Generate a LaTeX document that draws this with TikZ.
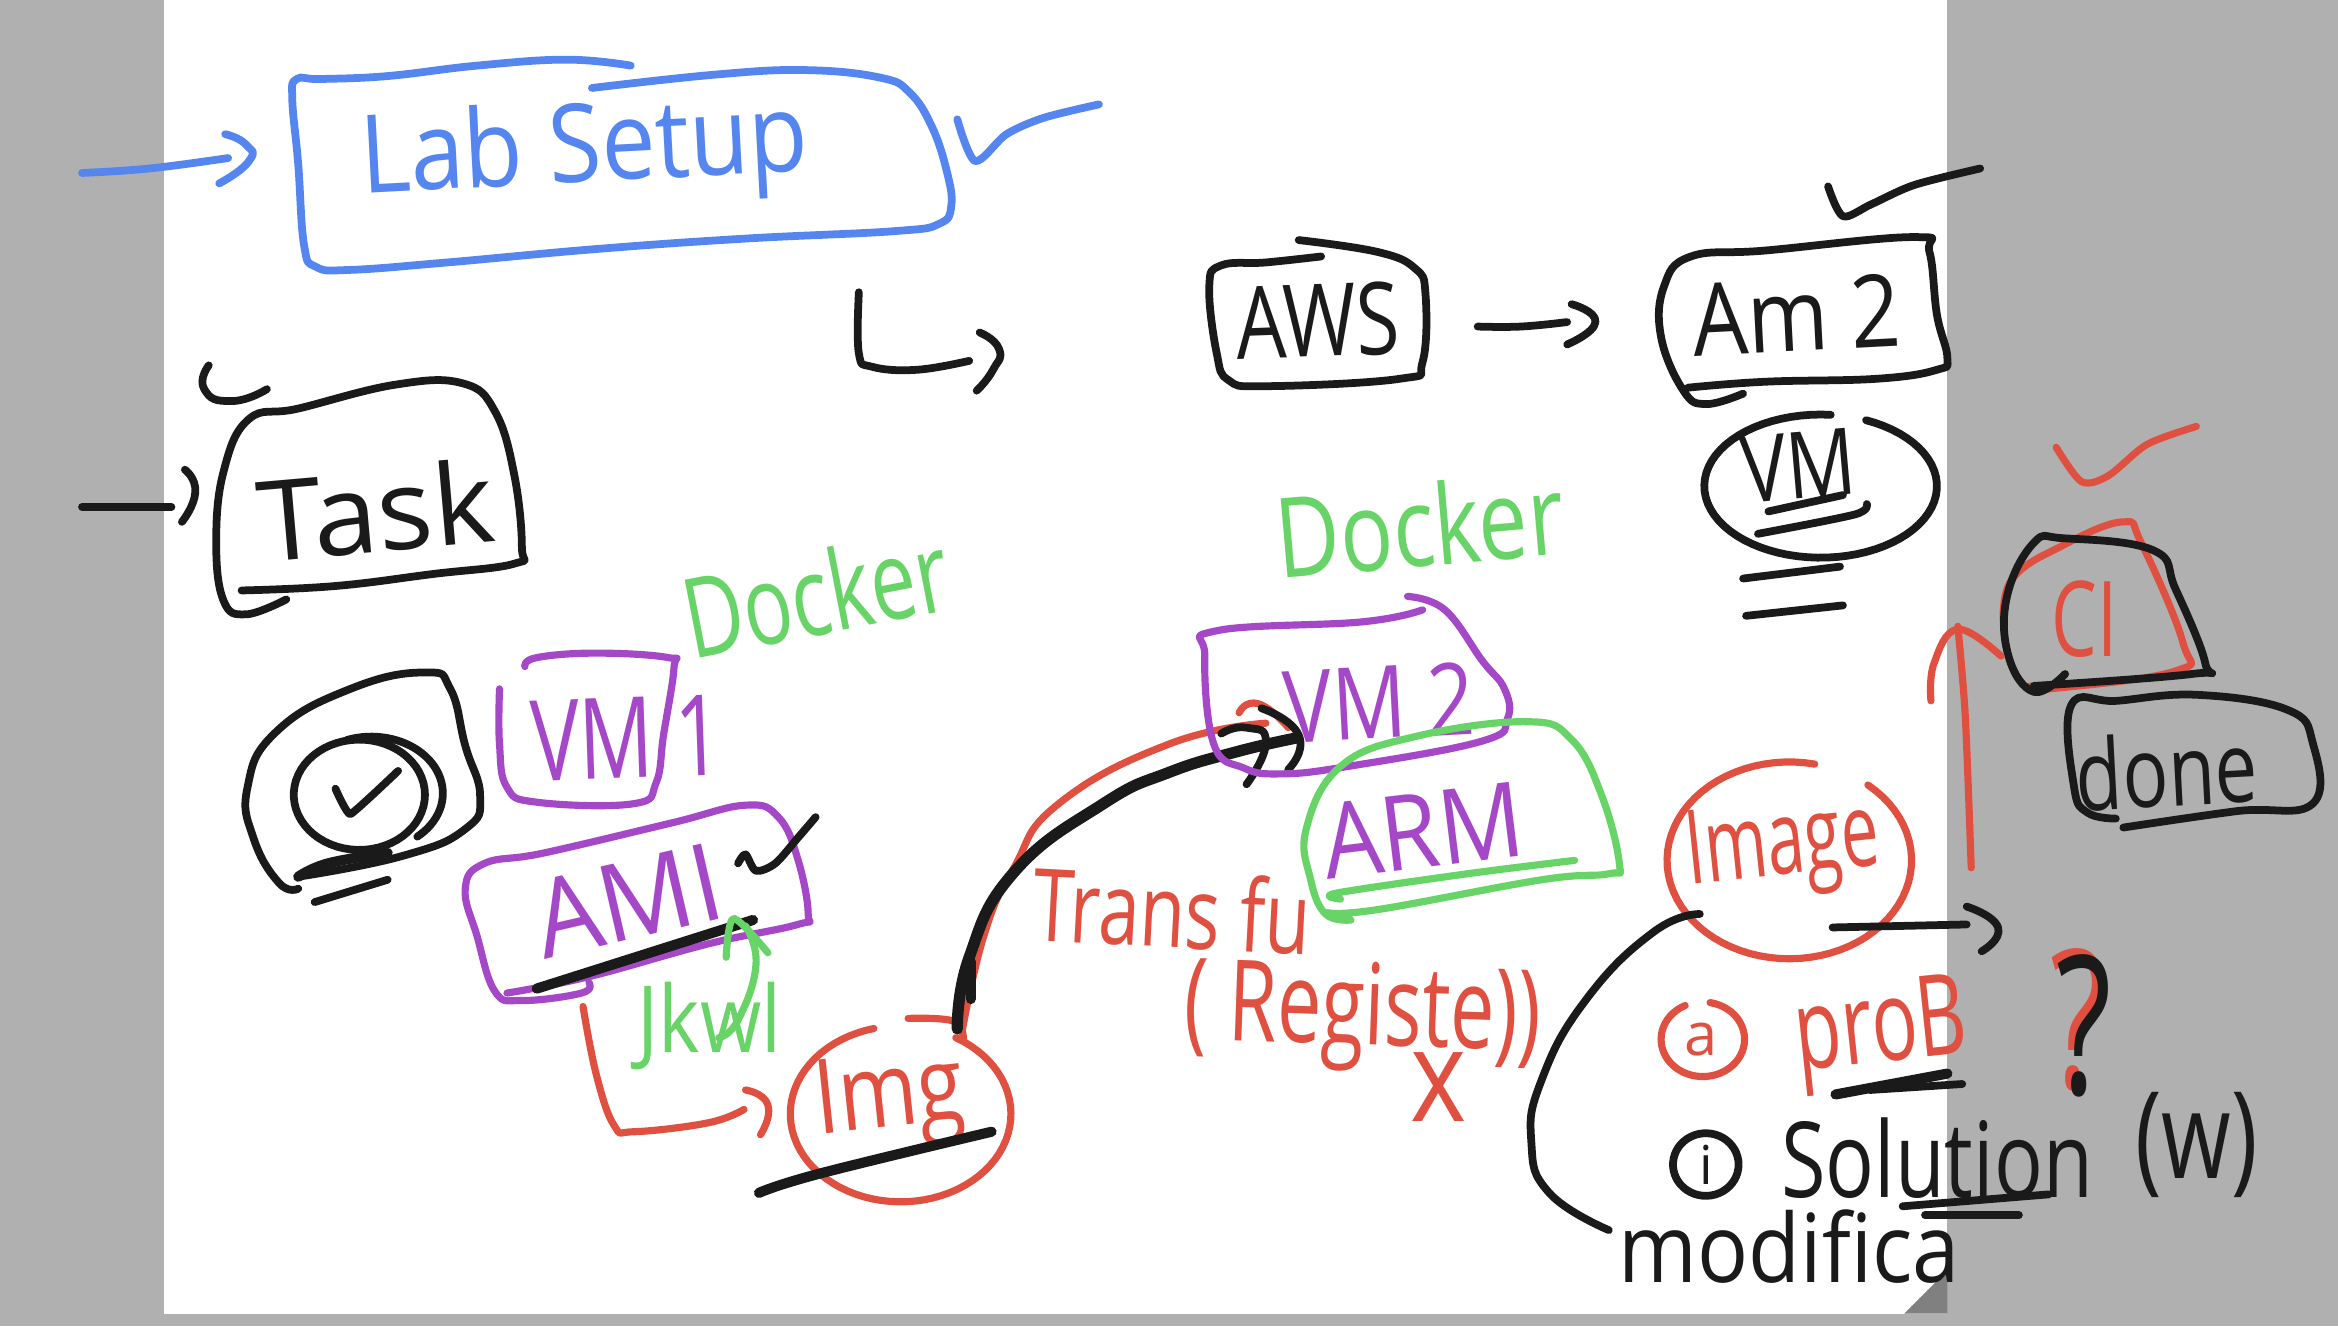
\documentclass[tikz,border=0pt]{standalone}
\usepackage{fontspec}
\newfontfamily\handfont{Open Sans}
\definecolor{boardgray}{HTML}{B0B0B0}
\definecolor{foldgray}{HTML}{808080}
\definecolor{inkblue}{HTML}{5585EE}
\definecolor{inkblack}{HTML}{1A1A1A}
\definecolor{inkred}{HTML}{E05040}
\definecolor{inkgreen}{HTML}{68D468}
\definecolor{inkpurple}{HTML}{A548C8}
\tikzset{
  pen/.style={line width=2.6pt,line cap=round,line join=round},
  bluepen/.style={pen,draw=inkblue},
  blackpen/.style={pen,draw=inkblack},
  redpen/.style={pen,line width=2.4pt,draw=inkred},
  greenpen/.style={pen,line width=2.4pt,draw=inkgreen},
  purplepen/.style={pen,line width=2.4pt,draw=inkpurple},
  strike/.style={blackpen,line width=3.4pt},
  hand/.style={font=\handfont\fontsize{#1}{#1}\selectfont,transform shape,inner sep=0pt},
}
\begin{document}
\begin{tikzpicture}[x=0.5pt,y=-0.5pt]

\useasboundingbox (0,0) rectangle (1568,889.3);
\fill[boardgray] (0,0) rectangle (1568,889.3);
\fill[white] (110,0) rectangle (1306,881);
\fill[foldgray] (1306,852) -- (1277,881) -- (1306,881) -- cycle;

% lab setup
\draw[bluepen] plot[smooth,tension=.7] coordinates {(423,44) (380,40) (320,44) (260,51) (215,53) (199,53) (196,66) (200,110) (204,165) (212,179) (235,181) (300,176) (400,167) (500,160) (600,155) (630,150) (638,138) (635,115) (625,85) (610,62) (590,52) (540,47) (480,50) (397,59)};
\draw[bluepen] plot[smooth,tension=.7] coordinates {(55,116) (100,113) (153,106)};
\draw[bluepen] plot[smooth,tension=1] coordinates {(151,90) (165,97) (167,108) (147,123)};
\draw[bluepen] plot[smooth,tension=.5] coordinates {(642,80) (654,108) (675,90) (700,79) (737,70)};
\node (labsetup) [hand=27,text=inkblue,rotate=3,xscale=1.2,yscale=1.35] at (392,103) {Lab Setup};

% hook to aws
\draw[blackpen] plot[smooth,tension=.7] coordinates {(576,196) (576,237) (585,246) (615,248) (650,242)};
\draw[blackpen] plot[smooth,tension=1] coordinates {(657,223) (670,234) (666,248) (655,262)};

% task
\draw[blackpen] plot[smooth,tension=.7] coordinates {(162,396) (225,393) (290,385) (345,378) (350,367) (345,319) (332,276) (310,257) (265,258) (200,274) (167,281) (150,316) (145,364) (150,403) (165,412) (192,402)};
\draw[blackpen] plot[smooth,tension=1] coordinates {(140,245) (137,261) (155,269) (179,261)};
\draw[blackpen] (55,340) -- (115,340);
\draw[blackpen] plot[smooth,tension=1] coordinates {(124,315) (131,330) (122,350)};
\node (task) [hand=30,text=inkblack,rotate=5,xscale=1.3,yscale=1.25] at (252,342) {Task};

% checked circle
\draw[blackpen] plot[smooth,tension=.8] coordinates {(200,596) (187,592) (170,562) (166,528) (185,491) (235,462) (285,451) (302,462) (312,500) (322,534) (312,556) (270,574) (200,588)};
\draw[blackpen] plot[domain=0:360,samples=60,variable=\t] ({241+44*cos(\t)},{533+37*sin(\t)});
\draw[blackpen] plot[domain=-110:50,samples=40,variable=\t] ({249+48*cos(\t)},{532+38*sin(\t)});
\draw[blackpen] plot[smooth,tension=.2] coordinates {(225,529) (235,546) (267,517)};
\draw[strike] plot[smooth,tension=.7] coordinates {(200,588) (220,579) (260,572)};
\draw[blackpen] (211,605) -- (260,590);

% left docker stack
\node (dockerleft) [hand=31,text=inkgreen,rotate=11,xscale=.88,yscale=1.2] at (547,398) {Docker};
\draw[purplepen] plot[smooth,tension=.7] coordinates {(335,462) (335,499) (340,528) (360,538) (425,539) (440,525) (445,493) (452,448) (448,441) (400,438) (360,441) (352,447)};
\node (vmone) [hand=29,text=inkpurple,rotate=2,xscale=.95,yscale=1.3] at (420,495) {VM 1};
\draw[purplepen] plot[smooth,tension=.7] coordinates {(395,659) (390,666) (350,671) (332,665) (320,628) (312,596) (325,579) (365,572) (450,552) (500,540) (522,548) (535,576) (542,613) (535,620) (475,633) (395,655) (340,666)};
\node (ami) [hand=29,text=inkpurple,rotate=13,xscale=1.2,yscale=1.25] at (421,604) {AMI};
\draw[strike] (360,663) -- (505,617);
\draw[blackpen] plot[smooth,tension=.5] coordinates {(495,579) (500,573) (507,584) (520,579) (535,562) (547,548)};

% green arc and jenkins note
\draw[greenpen] plot[smooth,tension=.8] coordinates {(500,621) (507,647) (495,684) (482,696)};
\draw[greenpen] plot[smooth,tension=.5] coordinates {(487,642) (492,616) (515,639)};
\node (jkwl) [hand=23,text=inkgreen,rotate=0,xscale=1.15,yscale=1.35] at (476,688) {Jkwl};

% img
\draw[redpen] plot[smooth,tension=.7] coordinates {(391,675) (400,721) (412,755) (425,759) (475,753) (499,744)};
\draw[redpen] plot[smooth,tension=1] coordinates {(500,731) (515,741) (510,761)};
\draw[redpen] plot[domain=-420:-104,samples=70,variable=\t] ({604+74*cos(\t)},{747+59*sin(\t)});
\draw[redpen] plot[smooth,tension=.7] coordinates {(609,683) (640,685) (646,698)};
\node (img) [hand=29,text=inkred,rotate=6,xscale=.98,yscale=1.2] at (597,739) {Img};
\draw[strike] plot[smooth,tension=.7] coordinates {(509,800) (550,787) (665,759)};

% transfer curve
\draw[redpen] plot[smooth,tension=.8] coordinates {(645,693) (660,627) (680,582) (710,539) (784,499) (849,485)};
\draw[redpen] plot[smooth,tension=1] coordinates {(831,478) (844,472) (864,488)};
\draw[strike,line width=3.8pt] plot[smooth,tension=.8] coordinates {(642,690) (650,642) (680,585) (740,539) (784,518) (830,504) (869,495)};
\draw[strike] (651,670) -- (651,645);
\draw[blackpen] plot[smooth,tension=1] coordinates {(819,492) (836,488) (849,498) (836,526)};
\draw[blackpen] plot[smooth,tension=1] coordinates {(846,475) (871,493) (864,516)};
\node (transfer) [hand=27,text=inkred,rotate=-3,xscale=.92,yscale=1.25] at (786,610) {Trans fu};
\node (register) [hand=27,text=inkred,rotate=-2,xscale=.98,yscale=1.4] at (914,682) {( Registe))};
\node (cross) [hand=36,text=inkred,rotate=0,yscale=1.2] at (965,729) {x};

% aws and am2
\draw[blackpen] plot[smooth,tension=.7] coordinates {(886,172) (849,176) (819,178) (811,192) (816,237) (824,255) (849,259) (939,254) (954,243) (956,197) (949,180) (924,169) (871,161)};
\node (aws) [hand=27,text=inkblack,rotate=2,xscale=.98,yscale=1.25] at (884,215) {AWS};
\draw[blackpen] plot[smooth,tension=.7] coordinates {(991,219) (1020,219) (1051,216)};
\draw[blackpen] plot[smooth,tension=1] coordinates {(1054,204) (1070,216) (1051,231)};
\draw[blackpen] plot[smooth,tension=.7] coordinates {(1169,264) (1144,271) (1129,262) (1114,226) (1116,192) (1134,172) (1184,168) (1284,159) (1294,169) (1299,211) (1306,240) (1299,248) (1259,254) (1184,256) (1132,260)};
\node (am) [hand=27,text=inkblack,rotate=3,xscale=1.08,yscale=1.25] at (1205,211) {Am 2};
\draw[blackpen] plot[smooth,tension=.5] coordinates {(1226,125) (1236,145) (1255,137) (1284,124) (1328,113)};
\draw[blackpen] plot[domain=-427:-85,samples=70,variable=\t] ({1221+78*cos(\t)},{326+48*sin(\t)});
\node (vm) [hand=27,text=inkblack,rotate=5,xscale=.95,yscale=1.15] at (1206,312) {VM};
\draw[blackpen] (1186,343) -- (1236,332);
\draw[blackpen] plot[smooth,tension=.5] coordinates {(1179,358) (1244,345) (1252,338)};
\draw[blackpen] (1169,388) -- (1234,380);
\draw[blackpen] (1171,413) -- (1236,406);

% right docker stack
\node (dockerright) [hand=31,text=inkgreen,rotate=5,xscale=.95,yscale=1.2] at (952,352) {Docker};
\draw[purplepen] plot[smooth,tension=.7] coordinates {(954,409) (914,417) (816,423) (808,440) (814,499) (834,515) (859,519) (904,514) (994,497) (1011,482) (1009,462) (994,443) (969,409) (944,400)};
\node (vmtwo) [hand=28,text=inkpurple,rotate=3,xscale=.98,yscale=1.2] at (925,471) {VM 2};
\draw[greenpen] plot[smooth,tension=.7] coordinates {(906,617) (889,613) (879,590) (876,556) (899,514) (949,494) (1024,484) (1054,496) (1074,533) (1086,579) (1079,586) (1034,590) (924,610) (890,612)};
\draw[greenpen] plot[smooth,tension=.5] coordinates {(899,603) (896,599) (984,586) (1056,577)};
\node (arm) [hand=28,text=inkpurple,rotate=7,xscale=1.12,yscale=1.25] at (954,557) {ARM};

% image and problem
\draw[redpen] plot[domain=-410:-78,samples=70,variable=\t] ({1200+82*cos(\t)},{577+66*sin(\t)});
\node (image) [hand=23,text=inkred,rotate=6,xscale=.98,yscale=1.5] at (1196,570) {Image};
\draw[blackpen] (1229,622) -- (1319,620);
\draw[blackpen] plot[smooth,tension=1] coordinates {(1319,608) (1340,622) (1329,638)};
\draw[blackpen] plot[smooth,tension=.8] coordinates {(1140,613) (1109,625) (1064,670) (1034,724) (1027,766) (1039,800) (1079,825)};
\draw[redpen] plot[domain=-440:-115,samples=50,variable=\t] ({1142+28*cos(\t)},{697+25*sin(\t)});
\node (proba) [hand=20,text=inkred] at (1141,697) {a};
\node (prob) [hand=27,text=inkred,rotate=6,xscale=.95,yscale=1.4] at (1262,694) {proB};
\draw[strike] (1231,734) -- (1306,720);
\draw[blackpen] (1254,731) -- (1316,727);

% solution
\draw[blackpen] plot[domain=0:360,samples=50,variable=\t] ({1144+22*cos(\t)},{781+21*sin(\t)});
\node (soli) [hand=18,text=inkblack] at (1144,781) {i};
\node (solution) [hand=32,text=inkblack,xscale=.85,yscale=1.1] at (1299,777) {Solution};
\node (solw) [hand=30,text=inkblack,yscale=1.35] at (1473,768) {(w)};
\draw[blackpen] (1276,809) -- (1374,801);
\draw[blackpen] (1291,815) -- (1354,815);
\node (modifica) [hand=29,text=inkblack,xscale=.98,yscale=1.1] at (1200,836) {modifica};

% ci and done
\draw[redpen] plot[smooth,tension=.5] coordinates {(1379,300) (1396,323) (1414,319) (1440,298) (1473,286)};
\draw[redpen] plot[smooth,tension=.7] coordinates {(1344,423) (1349,389) (1385,365) (1424,350) (1436,364) (1464,431) (1459,450) (1374,462) (1362,460)};
\draw[blackpen] plot[smooth,tension=.7] coordinates {(1385,452) (1364,464) (1347,440) (1346,400) (1364,364) (1384,361) (1444,369) (1459,395) (1479,445) (1470,452) (1364,460)};
\node (ci) [hand=27,text=inkred,xscale=.9,yscale=1.3] at (1398,415) {CI};
\draw[blackpen] plot[smooth,tension=.7] coordinates {(1419,549) (1400,545) (1391,528) (1389,473) (1420,470) (1474,466) (1534,476) (1551,498) (1551,539) (1500,544) (1424,555)};
\node (done) [hand=30,text=inkblack,rotate=3,xscale=.85,yscale=1.1] at (1453,516) {done};
\draw[redpen] plot[smooth,tension=.5] coordinates {(1322,582) (1318,480) (1313,420)};
\draw[redpen] plot[smooth,tension=.7] coordinates {(1295,470) (1297,445) (1313,422) (1342,440)};

% question mark
\node (askred) [hand=54,text=inkred,xscale=.8,yscale=1.2] at (1394,684) {?};
\node (askblack) [hand=54,text=inkblack,xscale=.8,yscale=1.2] at (1398,688) {?};

\end{tikzpicture}
\end{document}
